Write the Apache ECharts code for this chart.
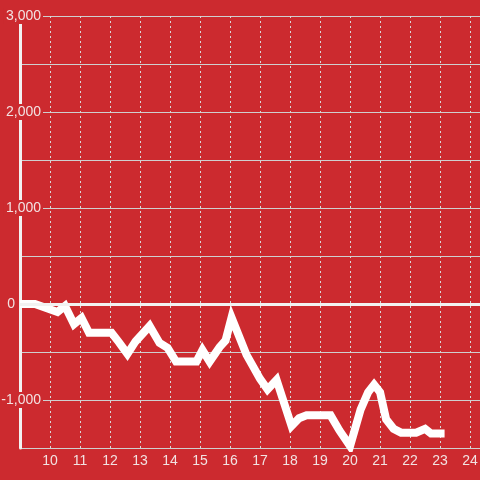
<!DOCTYPE html>
<html>
<head>
<meta charset="utf-8">
<script src="https://cdn.jsdelivr.net/npm/echarts@6/dist/echarts.min.js"></script>
<style>
html,body{margin:0;padding:0;background:#cc2a2f;}
#main{width:480px;height:480px;}
</style>
</head>
<body>
<div id="main"></div>
<script>
// Data (x = hour, y = value)
var hours = [9.0, 9.5, 10.25, 10.5, 10.8, 11.05, 11.3, 12.05, 12.3, 12.58, 12.85, 13.32, 13.65, 13.92, 14.2, 14.88, 15.08, 15.32, 15.65, 15.85, 16.05, 16.55, 17.0, 17.25, 17.55, 18.05, 18.3, 18.55, 19.35, 19.65, 20.0, 20.35, 20.6, 20.8, 21.0, 21.2, 21.45, 21.7, 22.2, 22.5, 22.7, 23.15];
var values = [0, 0, -83, -20, -210, -146, -300, -300, -400, -520, -390, -229, -406, -458, -600, -600, -480, -600, -450, -380, -140, -530, -780, -890, -790, -1270, -1190, -1160, -1160, -1320, -1480, -1100, -920, -840, -920, -1200, -1300, -1340, -1340, -1300, -1350, -1350];
var yTicks = [-1000, 0, 1000, 2000, 3000];
var xTicks = [10, 11, 12, 13, 14, 15, 16, 17, 18, 19, 20, 21, 22, 23, 24];

var seriesData = hours.map(function (h, i) { return [h, values[i]]; });
var bg = '#cc2a2f';
var txt = '#f2e2e2';

var chart = echarts.init(document.getElementById('main'));
chart.setOption({
  backgroundColor: bg,
  animation: false,
  grid: {left: 20, right: 0, top: 16, bottom: 32, containLabel: false, outerBoundsMode: 'none'},
  xAxis: {
    type: 'value',
    min: 9,
    max: 24.33,
    interval: 1,
    axisLine: {show: false},
    axisTick: {show: false},
    axisLabel: {
      color: txt, fontSize: 14, fontFamily: 'Liberation Sans', margin: 6,
      showMinLabel: false, showMaxLabel: false,
      formatter: function (v) { return xTicks.indexOf(v) >= 0 ? String(v) : ''; }
    },
    splitLine: {show: true, lineStyle: {color: '#d8d8d8', width: 1, type: [2, 3]}}
  },
  yAxis: {
    type: 'value',
    min: -1500,
    max: 3000,
    interval: 500,
    axisLine: {show: true, lineStyle: {color: '#f2f2f2', width: 3}},
    axisTick: {show: false},
    axisLabel: {
      color: txt, fontSize: 14, fontFamily: 'Liberation Sans', margin: -23,
      formatter: function (v) {
        if (yTicks.indexOf(v) < 0) return '';
        if (v === 0) return '{z|0}{s| }';
        return '{a|' + v.toLocaleString('en-US') + '}';
      },
      rich: {
        a: {color: txt, fontSize: 14, fontFamily: 'Liberation Sans', backgroundColor: bg, padding: [1, 2, 1, 2], lineHeight: 14},
        z: {color: txt, fontSize: 14, fontFamily: 'Liberation Sans', lineHeight: 14},
        s: {width: 28, fontSize: 14, lineHeight: 14}
      }
    },
    splitLine: {show: true, lineStyle: {color: '#cfcfcf', width: 1}}
  },
  series: [{
    type: 'line',
    data: seriesData,
    showSymbol: false,
    symbol: 'none',
    lineStyle: {color: '#ffffff', width: 8, join: 'miter'},
    markLine: {
      silent: true,
      symbol: 'none',
      label: {show: false},
      lineStyle: {color: '#f2f2f2', width: 3, type: 'solid'},
      data: [{yAxis: 0}]
    },
    z: 3
  }]
});
</script>
</body>
</html>
